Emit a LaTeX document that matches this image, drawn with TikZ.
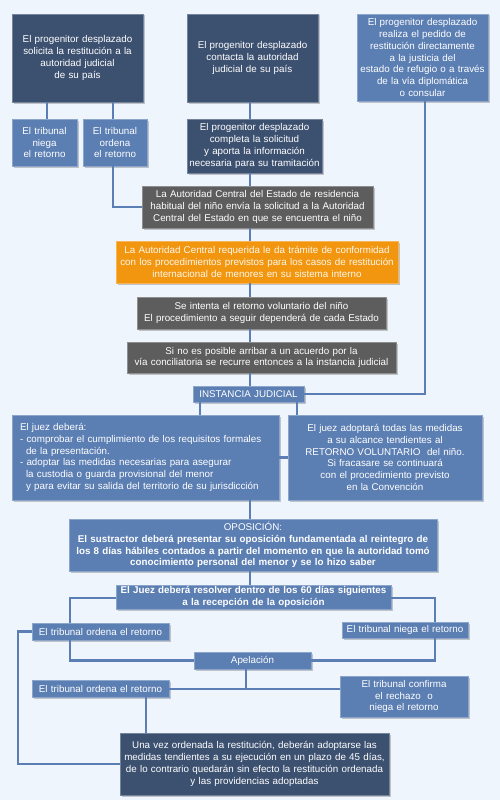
\documentclass[tikz,border=0pt]{standalone}
\usepackage{fontspec}
\setmainfont{Liberation Sans}
\usetikzlibrary{shadows}
\definecolor{bg}{HTML}{EFF5FC}
\definecolor{navy}{HTML}{3C5070}
\definecolor{mblue}{HTML}{5B7EB3}
\definecolor{dgray}{HTML}{5D5D5D}
\definecolor{orng}{HTML}{F2960F}
\definecolor{lnc}{HTML}{5B7EB5}
\begin{document}
\begin{tikzpicture}[x=1pt,y=-1pt,
  base/.style={rectangle, inner sep=1pt, text=white, align=center,
    font=\fontsize{9.8}{11.8}\selectfont,
    drop shadow={shadow xshift=1.5pt, shadow yshift=-1.5pt, opacity=0.35, fill=black!60}},
  navybox/.style={base, fill=navy, draw=navy!70!white, line width=0.5pt},
  bluebox/.style={base, fill=mblue, draw=mblue!70!white, line width=0.5pt},
  graybox/.style={base, fill=dgray, draw=dgray!70!white, line width=0.5pt},
  orangebox/.style={base, fill=orng, draw=orng!70!white, line width=0.5pt, text=white!92!orng},
  conn/.style={draw=lnc, line width=2.4pt},
  sz/.style 2 args={minimum width=#1pt, minimum height=#2pt, text width=#1pt-2pt}
]
\useasboundingbox[fill=bg] (0,0) rectangle (500,800);

% top row
\node[navybox, sz={131}{88}] (b1) at (77.5,58) {El progenitor desplazado\\solicita la restitución a la\\autoridad judicial\\de su país};
\node[navybox, sz={131}{88}] (b2) at (252.5,58) {El progenitor desplazado\\contacta la autoridad\\judicial de su país};
\node[bluebox, sz={131}{87}] (b3) at (422.5,57.5) {El progenitor desplazado\\realiza el pedido de\\restitución directamente\\a la justicia del\\estado de refugio o a través\\de la vía diplomática\\o consular};

\node[bluebox, sz={65}{47}] (t1) at (44.5,142.5) {El tribunal\\niega\\el retorno};
\node[bluebox, sz={64}{47}] (t2) at (115,142.5) {El tribunal\\ordena\\el retorno};
\node[navybox, sz={135}{54}] (b4) at (254.5,146) {El progenitor desplazado\\completa la solicitud\\y aporta la información\\necesaria para su tramitación};

\node[graybox, sz={231}{42}] (g5) at (257.5,207) {La Autoridad Central del Estado de residencia\\habitual del niño envía la solicitud a la Autoridad\\Central del Estado en que se encuentra el niño};
\node[orangebox, sz={282}{42}] (o6) at (257,262) {La Autoridad Central requerida le da trámite de conformidad\\con los procedimientos previstos para los casos de restitución\\internacional de menores en su sistema interno};
\node[graybox, sz={249}{32}] (g7) at (261.5,313) {Se intenta el retorno voluntario del niño\\El procedimiento a seguir dependerá de cada Estado};
\node[graybox, sz={269}{31}] (g8) at (261.5,357.5) {Si no es posible arribar a un acuerdo por la\\vía conciliatoria se recurre entonces a la instancia judicial};
\node[bluebox, sz={111}{16}] (ij) at (248.5,394) {INSTANCIA JUDICIAL};

\node[bluebox, sz={267}{85}, align=left, text width=251pt] (jl) at (145.5,457.5) {El juez deberá:\\- comprobar el cumplimiento de los requisitos formales\\\hspace*{6pt}de la presentación.\\- adoptar las medidas necesarias para asegurar\\\hspace*{6pt}la custodia o guarda provisional del menor\\\hspace*{6pt}y para evitar su salida del territorio de su jurisdicción};
\node[bluebox, sz={194}{85}] (jr) at (385,457.5) {El juez adoptará todas las medidas\\a su alcance tendientes al\\RETORNO VOLUNTARIO\ \ del niño.\\Si fracasare se continuará\\con el procedimiento previsto\\en la Convención};

\node[bluebox, sz={368}{52}] (op) at (253,545) {OPOSICIÓN:\\\bfseries El sustractor deberá presentar su oposición fundamentada al reintegro de\\los 8 días hábiles contados a partir del momento en que la autoridad tomó\\conocimiento personal del menor y se lo hizo saber};
\node[bluebox, sz={275}{24}, font=\fontsize{9.8}{11.8}\selectfont\bfseries] (j60) at (253.5,597) {El Juez deberá resolver dentro de los 60 días siguientes\\a la recepción de la oposición};

\node[bluebox, sz={137}{17}] (ord1) at (100.5,631.5) {El tribunal ordena el retorno};
\node[bluebox, sz={126}{16}] (neg1) at (405,630) {El tribunal niega el retorno};
\node[bluebox, sz={117}{17}] (ap) at (252.5,660.5) {Apelación};
\node[bluebox, sz={137}{17}] (ord2) at (100.5,688.5) {El tribunal ordena el retorno};
\node[bluebox, sz={128}{41}] (conf) at (404,696.5) {El tribunal confirma\\el rechazo\ \ o\\niega el retorno};
\node[navybox, sz={269}{62}] (fin) at (254.5,764) {Una vez ordenada la restitución, deberán adoptarse las\\medidas tendientes a su ejecución en un plazo de 45 días,\\de lo contrario quedarán sin efecto la restitución ordenada\\y las providencias adoptadas};

% connectors
\begin{pgfinterruptboundingbox}
\path[conn] ([xshift=-30.5pt]b1.south) -- ([xshift=2.5pt]t1.north);
\path[conn] ([xshift=35.5pt]b1.south) -- ([xshift=-2pt]t2.north);
\path[conn] ([xshift=-2pt]t2.south) |- (g5.west);
\path[conn] ([xshift=-2.5pt]b2.south) -- ([xshift=-4.5pt]b4.north);
\path[conn] ([xshift=-4.5pt]b4.south) -- ([xshift=-7.5pt]g5.north);
\path[conn] ([xshift=-7.5pt]g5.south) -- ([xshift=-7pt]o6.north);
\path[conn] ([xshift=-7pt]o6.south) -- ([xshift=-11.5pt]g7.north);
\path[conn] ([xshift=-11.5pt]g7.south) -- ([xshift=-11.5pt]g8.north);
\path[conn] ([xshift=-11.5pt]g8.south) -- ([xshift=1.5pt]ij.north);
\path[conn] ([xshift=2.5pt]b3.south) |- (ij.east);
\path[conn] ([xshift=-48.5pt]ij.south) -- ([xshift=54.5pt]jl.north);
\path[conn] ([xshift=48.5pt]ij.south) -- ([xshift=-88pt]jr.north);
\path[conn] (jl.east) -- (jr.west);
\path[conn] ([xshift=104.5pt]jl.south) -- ([xshift=-3pt]op.north);
\path[conn] ([xshift=-3pt]op.south) -- ([xshift=-3.5pt]j60.north);
\path[conn] ([yshift=-1pt]j60.west) -| ([xshift=-30.5pt]ord1.north);
\path[conn] ([yshift=-1pt]j60.east) -| ([xshift=30pt]neg1.north);
\path[conn] ([xshift=-30.5pt]ord1.south) |- (ap.west);
\path[conn] ([xshift=30pt]neg1.south) |- (ap.east);
\coordinate (hl) at ([yshift=-0.5pt]ord2.east);
\path[conn] (hl) -- (hl -| conf.west);
\path[conn] ([xshift=-6.5pt]ap.south) -- ([xshift=-6.5pt]ap.south |- hl);
\path[conn] ([xshift=45.5pt]ord2.south) -- ([xshift=45.5pt]ord2.south |- fin.north);
\path[conn] (ord1.west) -- ++(-14,0) |- (fin.west);
\end{pgfinterruptboundingbox}
\end{tikzpicture}
\end{document}
